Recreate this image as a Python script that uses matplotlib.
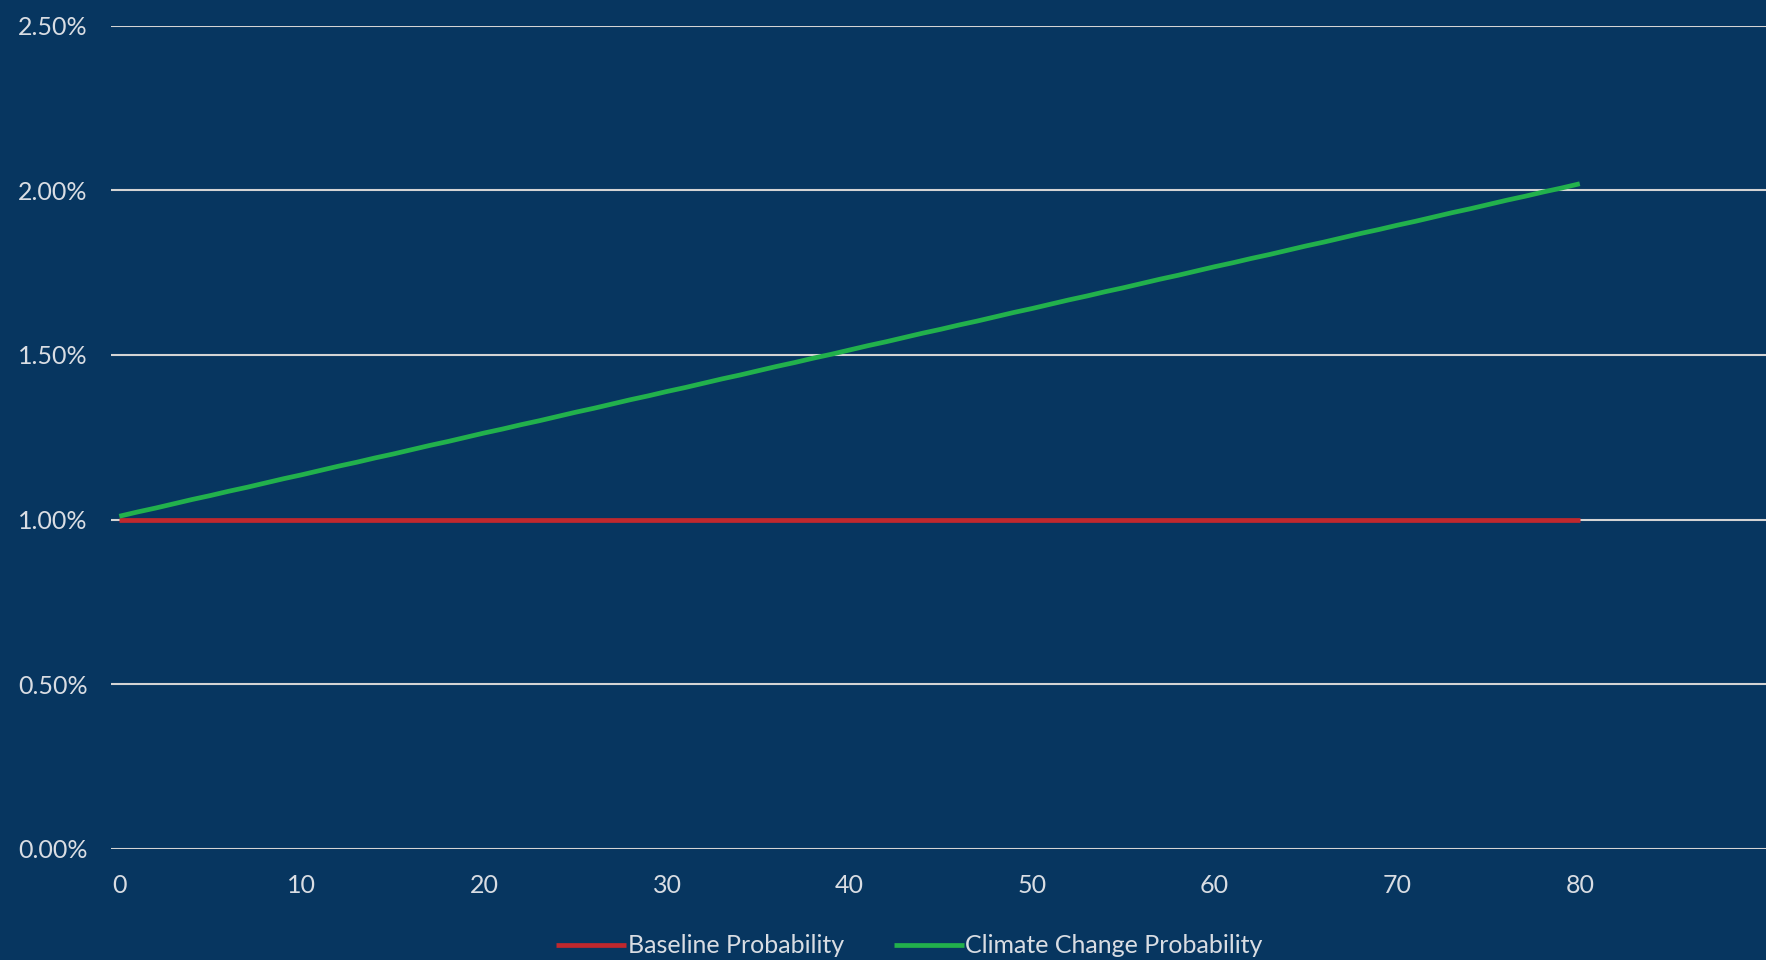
import matplotlib
matplotlib.use("Agg")
import matplotlib.pyplot as plt
from matplotlib.ticker import FuncFormatter

# years from now and annual flood probability (%)
years = list(range(0, 81))
baseline_prob = [1.00] * 81
climate_prob = [
    1.010, 1.023, 1.035, 1.048, 1.061, 1.073, 1.086, 1.098, 1.111, 1.124,
    1.136, 1.149, 1.162, 1.174, 1.187, 1.199, 1.212, 1.225, 1.237, 1.250,
    1.263, 1.275, 1.288, 1.300, 1.313, 1.326, 1.338, 1.351, 1.364, 1.376,
    1.389, 1.401, 1.414, 1.427, 1.439, 1.452, 1.465, 1.477, 1.490, 1.502,
    1.515, 1.528, 1.540, 1.553, 1.566, 1.578, 1.591, 1.603, 1.616, 1.629,
    1.641, 1.654, 1.667, 1.679, 1.692, 1.704, 1.717, 1.730, 1.742, 1.755,
    1.768, 1.780, 1.793, 1.805, 1.818, 1.831, 1.843, 1.856, 1.869, 1.881,
    1.894, 1.906, 1.919, 1.932, 1.944, 1.957, 1.970, 1.982, 1.995, 2.007,
    2.020,
]
x_ticks = [0, 10, 20, 30, 40, 50, 60, 70, 80]
y_ticks = [0.0, 0.5, 1.0, 1.5, 2.0, 2.5]

BG = '#073660'
TXT = '#d9dde3'
GRID = '#d4d4d4'

plt.rcParams['font.family'] = ['Lato', 'DejaVu Sans']

fig = plt.figure(figsize=(17.66, 9.6), dpi=100, facecolor=BG)
ax = fig.add_axes([0.0629, 0.1159, 1 - 0.0629, 0.8573])
ax.set_facecolor(BG)

for y in y_ticks:
    ax.axhline(y, color=GRID, lw=1.5, zorder=1)

ax.plot(years, baseline_prob, color='#c0282d', lw=3.4, label='Baseline Probability',
        solid_capstyle='butt', zorder=3)
ax.plot(years, climate_prob, color='#22b14c', lw=3.4, label='Climate Change Probability',
        solid_capstyle='butt', zorder=4)

ax.set_xlim(-0.45, 90.2)
ax.set_ylim(0, 2.5)
ax.set_xticks(x_ticks)
ax.set_yticks(y_ticks)
ax.yaxis.set_major_formatter(FuncFormatter(lambda v, _: f"{v:.2f}%"))
ax.tick_params(axis='both', length=0, colors=TXT, labelsize=18)
ax.tick_params(axis='x', pad=18)
ax.tick_params(axis='y', pad=17)
for s in ax.spines.values():
    s.set_visible(False)

fig.legend(loc='center', bbox_to_anchor=(0.515, 0.0146), ncol=2, frameon=False,
           fontsize=18, labelcolor=TXT, handlelength=2.8, handletextpad=0.05,
           columnspacing=2.0)

plt.savefig('out.png', dpi=100, facecolor=BG)
plt.close()
